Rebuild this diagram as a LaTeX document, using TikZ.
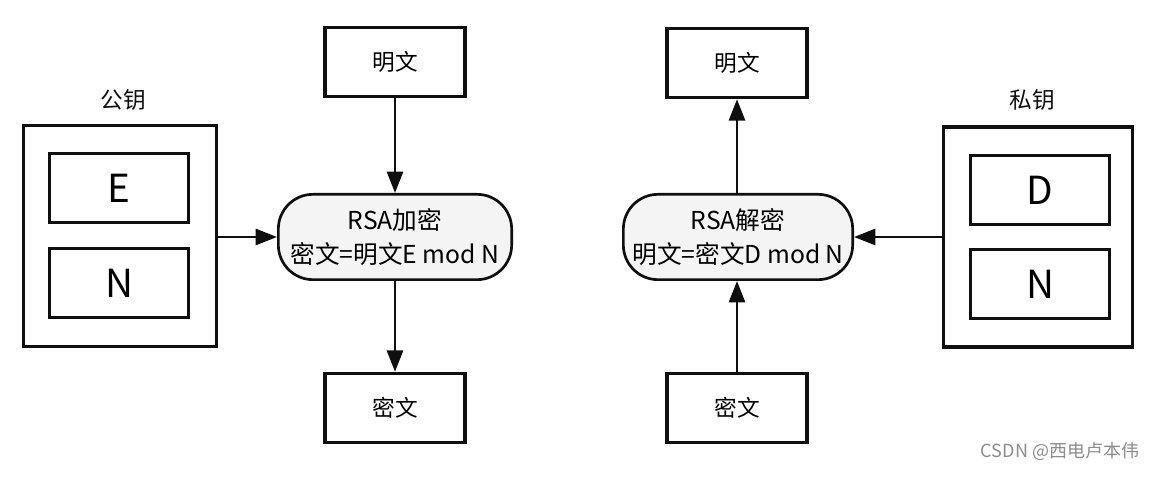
\documentclass[tikz,border=0pt]{standalone}
\usepackage{fontspec}
\setmainfont{Noto Sans CJK SC}
\usepackage{xcolor}
\usepackage{tikz}
\usetikzlibrary{arrows.meta,positioning}
\definecolor{lineDark}{RGB}{15,15,15}
\definecolor{fillSoft}{RGB}{244,244,244}
\definecolor{markGray}{RGB}{140,140,140}
\tikzset{
  keybox/.style={
    rectangle, draw=lineDark, line width=2.3pt, fill=white,
    minimum width=145pt, minimum height=166pt
  },
  partbox/.style={
    rectangle, draw=lineDark, line width=2.3pt, fill=white,
    minimum width=104pt, minimum height=52pt,
    font=\fontsize{29}{32}\selectfont
  },
  textbox/.style={
    rectangle, draw=lineDark, line width=2.3pt, fill=white,
    minimum width=105pt, minimum height=52pt,
    font=\fontsize{17}{20}\selectfont
  },
  cryptnode/.style={
    rectangle, rounded corners=26pt, draw=lineDark, line width=2pt,
    fill=fillSoft, minimum height=64pt, inner xsep=4pt, align=center,
    font=\fontsize{18.5}{26}\selectfont
  },
  flowArrow/.style={-{Triangle[length=16pt,width=12pt]}, line width=2pt, color=lineDark}
}

\begin{document}
\begin{tikzpicture}[
    x=0.75pt, y=-0.75pt,
    lbl/.style={font=\fontsize{17}{20}\selectfont, color=lineDark}
  ]
    \useasboundingbox (0,0) rectangle (1149,491);

    \node[lbl] (pubLbl) at (123,100) {公钥};
    \node[keybox] (pubKey) at (120,236) {};
    \node[partbox] (pubE) at (119,188) {E};
    \node[partbox] (pubN) at (119,283) {N};

    \node[textbox] (plainA) at (395,62) {明文};
    \node[cryptnode, minimum width=175pt] (enc) at (395,237) {RSA加密\\密文=明文E mod N};
    \node[textbox] (cipherA) at (395,408) {密文};

    \draw[flowArrow] (plainA)--(enc);
    \draw[flowArrow] (enc)--(cipherA);
    \draw[flowArrow] (pubKey.east|-enc)--(enc);

    \node[textbox] (plainB) at (737,63) {明文};
    \node[cryptnode, minimum width=172pt] (dec) at (738,237) {RSA解密\\明文=密文D mod N};
    \node[textbox] (cipherB) at (737,408) {密文};

    \node[lbl] (privLbl) at (1032,100) {私钥};
    \node[keybox, minimum width=142pt, minimum height=165pt] (privKey) at (1038,237) {};
    \node[partbox] (privD) at (1040,190) {D};
    \node[partbox] (privN) at (1040,284) {N};

    \draw[flowArrow] (dec.north-|plainB)--(plainB);
    \draw[flowArrow] (cipherB)--(dec.south-|cipherB);
    \draw[flowArrow] (privKey.west|-dec)--(dec);

    \node[font=\fontsize{13.5}{16}\selectfont, color=markGray] (mark) at (1060,451) {CSDN @西电卢本伟};
\end{tikzpicture}
\end{document}
